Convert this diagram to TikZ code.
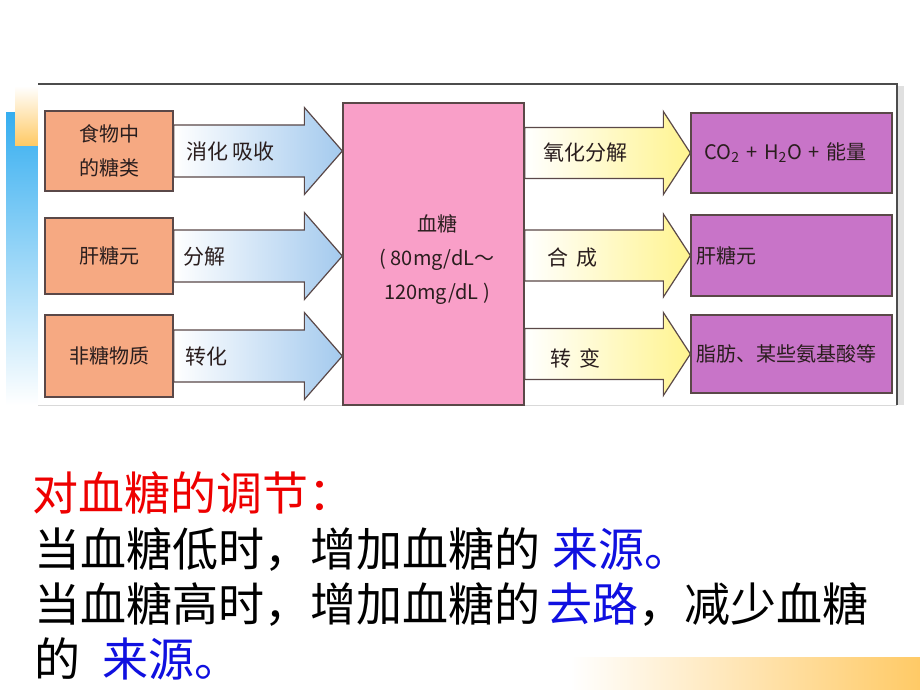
\documentclass[tikz,border=0pt]{standalone}
\usepackage{fontspec}
\setmainfont{Noto Sans CJK SC}
\usetikzlibrary{calc}
\definecolor{orangebox}{HTML}{F6A982}
\definecolor{pinkbox}{HTML}{F99FC8}
\definecolor{purplebox}{HTML}{C874C8}
\definecolor{boxline}{HTML}{5A4848}
\definecolor{arrowblue}{HTML}{A4CAEE}
\definecolor{arrowyellow}{HTML}{FFF490}
\definecolor{decoblue}{HTML}{36AEF0}
\definecolor{decoorange}{HTML}{FFCA66}
\definecolor{inktext}{HTML}{2A1E1E}
\definecolor{redtext}{HTML}{EE0000}
\definecolor{bluetext}{HTML}{1010E0}
\newcommand\blockarrow[6]{%
  \path[#1] let \p1=(#2), \p2=(#3) in
    (\x1,\y1+#5) -- (\x2-#4,\y1+#5) -- (\x2-#4,\y1+#6) -- (\x2,\y1)
    -- (\x2-#4,\y1-#6) -- (\x2-#4,\y1-#5) -- (\x1,\y1-#5) -- cycle;}
\begin{document}
\begin{tikzpicture}[x=1pt,y=-1pt,
  box/.style={draw=boxline, line width=1.3pt, inner sep=0pt, text=inktext,
    font=\fontsize{20}{34}\selectfont, align=center},
  srcbox/.style={box, fill=orangebox, minimum width=128pt},
  bloodbox/.style={box, fill=pinkbox, minimum width=181pt, minimum height=302pt},
  dstbox/.style={box, fill=purplebox, minimum width=201pt, text width=190pt, align=left},
  larrow/.style={draw=boxline, line width=1.2pt, left color=white, middle color=arrowblue!30, right color=arrowblue},
  rarrow/.style={draw=boxline, line width=1.2pt, left color=white, middle color=arrowyellow!45, right color=arrowyellow},
  alabel/.style={anchor=west, inner sep=0pt, text=inktext, font=\fontsize{21}{24}\selectfont},
  btext/.style={anchor=base west, inner sep=0pt, font=\fontsize{46}{50}\selectfont}]
\useasboundingbox (0,0) rectangle (920,690);
\fill[white] (0,0) rectangle (920,690);
% decorations
\shade[top color=decoblue, middle color=decoblue!55, bottom color=white] (6,113) rectangle (38,405);
\shade[top color=white, bottom color=decoorange] (15,86) rectangle (38,145);
\shade[left color=white, middle color=decoorange!45, right color=decoorange] (570,657) rectangle (920,690);
% picture frame
\fill[white] (38,84) rectangle (897,405);
\fill[black!12] (898,86) rectangle (904,405);
\draw[black!15, line width=1pt] (38,405) -- (897,405);
\draw[black!70, line width=1.2pt] (38,84) -- (897,84) -- (897,405);
% boxes
\node[srcbox, minimum height=80pt] (f1) at (109,151) {食物中\\的糖类};
\node[srcbox, minimum height=76pt] (f2) at (109,256) {肝糖元};
\node[srcbox, minimum height=82pt] (f3) at (109,356) {非糖物质};
\node[bloodbox] (blood) at (433.5,254) {};
\node[text=inktext, font=\fontsize{20}{34}\selectfont, align=center, inner sep=0pt] (bloodtxt) at (437,260)
  {血糖\\( 80mg/dL～\\120mg/dL )};
\node[dstbox, minimum height=80pt] (r1) at (791.5,153) {\hspace*{8pt}CO\textsubscript{2} + H\textsubscript{2}O + 能量};
\node[dstbox, minimum height=81pt] (r2) at (791.5,255.5) {肝糖元};
\node[dstbox, minimum height=78pt] (r3) at (791.5,354) {脂肪、某些氨基酸等};
% arrows
\blockarrow{larrow}{f1.east}{blood.west |- f1.east}{38pt}{26pt}{43.5pt}
\blockarrow{larrow}{f2.east}{blood.west |- f2.east}{38pt}{26pt}{43.5pt}
\blockarrow{larrow}{f3.east}{blood.west |- f3.east}{38pt}{26pt}{43.5pt}
\blockarrow{rarrow}{blood.east |- r1.west}{r1.west}{27pt}{25.5pt}{41.5pt}
\blockarrow{rarrow}{blood.east |- r2.west}{r2.west}{27pt}{25.5pt}{41.5pt}
\blockarrow{rarrow}{blood.east |- r3.west}{r3.west}{27pt}{25.5pt}{41.5pt}
% arrow labels
\node[alabel] (l1) at (186,152) {消化 吸收};
\node[alabel] (l2) at (183,257) {分解};
\node[alabel] (l3) at (185,357) {转化};
\node[alabel] (m1) at (543,153) {氧化分解};
\node[alabel] (m2) at (547,258) {合\hspace{8pt}成};
\node[alabel] (m3) at (550,358) {转\hspace{8pt}变};
% bottom text
\node[btext, text=redtext] (t1) at (32,510) {对血糖的调节：};
\node[btext] (t2) at (34,566) {当血糖低时，增加血糖的\hspace{12pt}\textcolor{bluetext}{来源。}};
\node[btext] (t3) at (34,621) {当血糖高时，增加血糖的\hspace{6pt}\textcolor{bluetext}{去路}，减少血糖};
\node[btext] (t4) at (34,676) {的\hspace{22pt}\textcolor{bluetext}{来源。}};
\end{tikzpicture}
\end{document}
